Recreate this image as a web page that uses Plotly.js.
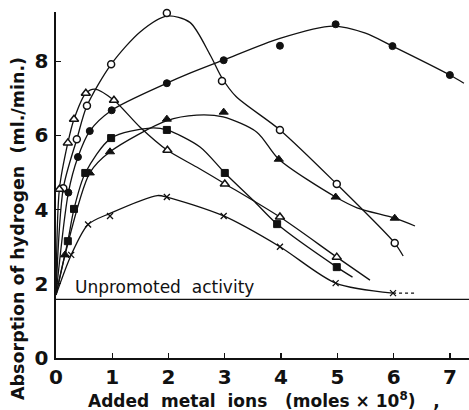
<!DOCTYPE html>
<html>
<head>
<meta charset="utf-8">
<script src="https://cdn.plot.ly/plotly-3.0.1.min.js"></script>
<style>html,body{margin:0;padding:0;background:#fff;}#chart{width:469px;height:410px;}</style>
</head>
<body>
<div id="chart"></div>
<script>
// ---- data ----
const xTicks = [0, 1, 2, 3, 4, 5, 6, 7];
const yTicks = [0, 2, 4, 6, 8];
const unpromotedLevel = 1.58;
const unpromotedLabel = "Unpromoted activity";

// open circles
const ocX = [0.13, 0.37, 0.55, 0.98, 1.97, 2.95, 3.98, 4.99, 6.02];
const ocY = [4.58, 5.9, 6.8, 7.92, 9.3, 7.47, 6.15, 4.69, 3.1];
const ocCurveX = [0, 0.13, 0.37, 0.55, 0.98, 1.5, 1.97, 2.38, 2.74, 2.95, 3.2, 3.98, 4.99, 6.02, 6.17];
const ocCurveY = [1.7, 4.58, 5.9, 6.8, 7.92, 8.8, 9.22, 9.05, 8.17, 7.55, 7.05, 6.15, 4.69, 3.1, 2.75];

// open triangles
const otX = [0.06, 0.21, 0.32, 0.53, 1.03, 1.98, 3.0, 3.98, 4.99];
const otY = [4.55, 5.8, 6.44, 7.14, 6.95, 5.6, 4.69, 3.8, 2.72];
const otCurveX = [0, 0.06, 0.21, 0.32, 0.53, 0.69, 1.03, 1.49, 1.98, 2.5, 3.0, 3.98, 4.99, 5.58];
const otCurveY = [1.7, 4.55, 5.8, 6.44, 7.14, 7.25, 6.95, 6.23, 5.6, 5.15, 4.7, 3.8, 2.72, 2.1];

// filled circles
const fcX = [0.22, 0.39, 0.6, 0.99, 1.97, 2.98, 3.98, 4.97, 5.98, 7.0];
const fcY = [4.46, 5.42, 6.12, 6.68, 7.41, 8.03, 8.42, 9.0, 8.41, 7.63];
const fcCurveX = [0, 0.22, 0.39, 0.6, 0.99, 1.97, 2.38, 2.97, 3.98, 4.92, 5.5, 5.98, 7.0, 7.25];
const fcCurveY = [1.7, 4.46, 5.42, 6.12, 6.68, 7.41, 7.68, 8.03, 8.62, 8.95, 8.76, 8.41, 7.63, 7.41];

// filled triangles
const ftX = [0.16, 0.6, 0.96, 1.97, 2.98, 3.96, 4.97, 6.02];
const ftY = [2.78, 4.99, 5.56, 6.44, 6.63, 5.36, 4.34, 3.77];
const ftCurveX = [0, 0.16, 0.6, 0.96, 1.97, 2.5, 2.97, 3.57, 3.96, 4.97, 5.35, 6.02, 6.38];
const ftCurveY = [1.7, 2.78, 4.99, 5.56, 6.4, 6.55, 6.5, 6.09, 5.36, 4.34, 4.05, 3.77, 3.56];

// filled squares
const fsX = [0.21, 0.32, 0.52, 0.98, 1.97, 3.0, 3.93, 4.99];
const fsY = [3.15, 4.02, 4.99, 5.93, 6.15, 4.99, 3.61, 2.45];
const fsCurveX = [0, 0.21, 0.32, 0.52, 0.98, 1.67, 1.97, 2.56, 3.0, 3.5, 3.93, 4.99, 5.27];
const fsCurveY = [1.7, 3.15, 4.02, 4.99, 5.93, 6.2, 6.15, 5.69, 4.99, 4.26, 3.61, 2.45, 2.18];

// crosses
const xxX = [0.27, 0.57, 0.96, 1.97, 2.98, 3.98, 4.97, 5.99];
const xxY = [2.78, 3.6, 3.83, 4.34, 3.83, 3.0, 2.02, 1.75];
const xxCurveX = [0, 0.27, 0.57, 0.96, 1.8, 1.97, 2.98, 3.98, 4.97, 5.99];
const xxCurveY = [1.7, 2.78, 3.6, 3.9, 4.38, 4.34, 3.83, 3.0, 2.02, 1.75];
const xxTailX = [5.99, 6.4];
const xxTailY = [1.75, 1.75];

const xRange = [0, 7.34];
const yRange = [0, 9.33];

// ---- traces ----
const ink = '#111';
const FONT = 'DejaVu Sans, sans-serif';
function curve(x, y, dash) {
  return {x: x, y: y, mode: 'lines', type: 'scatter', hoverinfo: 'skip',
    line: {color: ink, width: 1.3, shape: 'spline', smoothing: 0.8, dash: dash || 'solid'}};
}
function marks(x, y, symbol, size, hollow) {
  return {x: x, y: y, mode: 'markers', type: 'scatter', cliponaxis: false,
    marker: {symbol: symbol, size: size, color: hollow ? '#fff' : ink,
      line: {color: ink, width: hollow ? 1.5 : 1}}};
}
const traces = [
  {x: xRange, y: [unpromotedLevel, unpromotedLevel], mode: 'lines', type: 'scatter',
   line: {color: ink, width: 1.3}, hoverinfo: 'skip'},
  curve(ocCurveX, ocCurveY), curve(otCurveX, otCurveY), curve(fcCurveX, fcCurveY),
  curve(ftCurveX, ftCurveY), curve(fsCurveX, fsCurveY), curve(xxCurveX, xxCurveY),
  curve(xxTailX, xxTailY, 'dot'),
  marks(ocX, ocY, 'circle', 7, true),
  marks(otX, otY, 'triangle-up', 8, true),
  marks(fcX, fcY, 'circle', 7, false),
  marks(ftX, ftY, 'triangle-up', 8, false),
  marks(fsX, fsY, 'square', 7, false),
  {x: xxX, y: xxY, mode: 'markers', type: 'scatter',
   marker: {symbol: 'x-thin', size: 6, color: ink, line: {color: ink, width: 1.3}}}
];

const layout = {
  width: 469, height: 410,
  margin: {l: 56, r: 0, t: 12, b: 52},
  paper_bgcolor: '#fff', plot_bgcolor: '#fff',
  showlegend: false,
  xaxis: {range: xRange, tickvals: xTicks, ticktext: xTicks.map(String),
    ticks: 'inside', ticklen: 5, tickwidth: 1.3, tickcolor: ink,
    showline: true, linecolor: ink, linewidth: 1.6, showgrid: false, zeroline: false,
    ticklabelstandoff: 0,
    tickfont: {family: FONT, size: 20, color: ink, weight: 'bold'}},
  yaxis: {range: yRange, tickvals: yTicks, ticktext: yTicks.map(String),
    ticks: 'inside', ticklen: 5, tickwidth: 1.3, tickcolor: ink,
    showline: true, linecolor: ink, linewidth: 1.6, showgrid: false, zeroline: false,
    ticklabelstandoff: 2,
    tickfont: {family: FONT, size: 20, color: ink, weight: 'bold'}},
  annotations: [
    {text: 'Added&nbsp;&nbsp;metal&nbsp;&nbsp;ions&nbsp;&nbsp;&nbsp;(moles&nbsp;×&nbsp;10<sup>8</sup>)&nbsp;&nbsp;&nbsp;,',
     xref: 'paper', yref: 'paper', x: (264 - 56) / 413, y: (358 - 400) / 346,
     xanchor: 'center', yanchor: 'middle', showarrow: false,
     font: {family: FONT, size: 17, color: ink, weight: 'bold'}},
    {text: 'Absorption&nbsp;of&nbsp;hydrogen&nbsp;&nbsp;(ml./min.)',
     xref: 'paper', yref: 'paper', x: (18 - 56) / 413, y: (358 - 229) / 346,
     xanchor: 'center', yanchor: 'middle', textangle: -90, showarrow: false,
     font: {family: FONT, size: 17.5, color: ink, weight: 'bold'}},
    {text: unpromotedLabel.replace(' ', '&nbsp;&nbsp;'),
     xref: 'x', yref: 'y', x: (73 - 56) / 56.3, y: unpromotedLevel,
     xanchor: 'left', yanchor: 'bottom', yshift: 0, showarrow: false,
     font: {family: FONT, size: 17, color: ink}}
  ]
};

Plotly.newPlot('chart', traces, layout, {displayModeBar: false, staticPlot: true});
</script>
</body>
</html>
